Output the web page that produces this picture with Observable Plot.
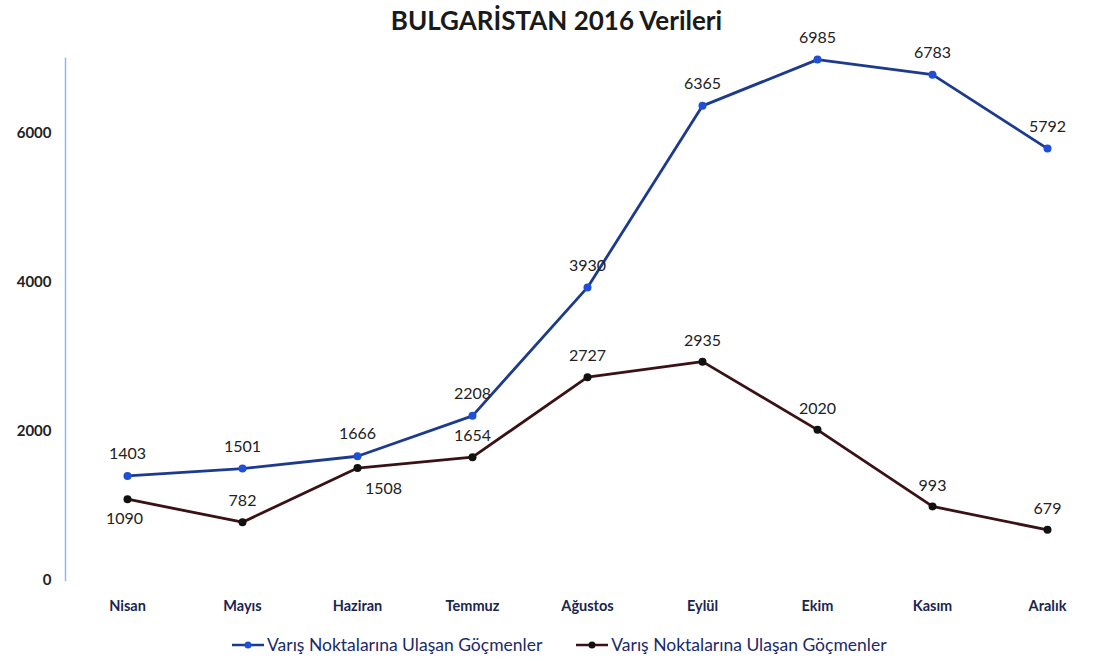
<!DOCTYPE html>
<html>
<head>
<meta charset="utf-8">
<script src="https://cdn.jsdelivr.net/npm/d3@7"></script>
<script src="https://cdn.jsdelivr.net/npm/@observablehq/plot@0.6"></script>
<style>
  html, body { margin: 0; padding: 0; background: #fff; }
  body { width: 1113px; height: 661px; overflow: hidden; font-family: Lato, "Open Sans", sans-serif; position: relative; }
  #title { position: absolute; top: 0; left: 0; width: 1113px; height: 40px; line-height: 40px; text-align: center; font-size: 26px; font-weight: bold; color: #1a1a1a; z-index: 2; }
  #chart { position: absolute; top: 0; left: 0; }
  #legend { position: absolute; top: 634px; left: 232px; display: flex; gap: 34px; font-size: 17.5px; color: #1a2a6a; align-items: center; }
  .item { display: flex; align-items: center; }
  .item svg { margin-right: 3px; }
</style>
</head>
<body>
<div id="chart"></div>
<div id="title">BULGARİSTAN 2016 Verileri</div>
<div id="legend"></div>
<script>
const months = ["Nisan", "Mayıs", "Haziran", "Temmuz", "Ağustos", "Eylül", "Ekim", "Kasım", "Aralık"];
const series1 = [1403, 1501, 1666, 2208, 3930, 6365, 6985, 6783, 5792];
const series2 = [1090, 782, 1508, 1654, 2727, 2935, 2020, 993, 679];
const seriesNames = ["Varış Noktalarına Ulaşan Göçmenler", "Varış Noktalarına Ulaşan Göçmenler"];
const yTicks = [0, 2000, 4000, 6000];

const c1Line = "#1c3a8e", c1Dot = "#1f4fd6";
const c2Line = "#3a1215", c2Dot = "#111111";

const d1 = months.map((m, i) => ({month: m, value: series1[i]}));
const d2 = months.map((m, i) => ({month: m, value: series2[i], i}));

const chart = Plot.plot({
  width: 1113,
  height: 623,
  marginLeft: 65,
  marginRight: 5,
  marginTop: 58,
  marginBottom: 43,
  style: {fontFamily: "Lato, 'Open Sans', sans-serif", fontSize: "14px", color: "#1a1a1a", background: "transparent"},
  x: {type: "point", domain: months, padding: 0.5, label: null},
  y: {domain: [0, 7000], label: null},
  marks: [
    Plot.frame({anchor: "left", stroke: "#8ab8f5", strokeWidth: 1.5}),
    Plot.axisY({ticks: yTicks, tickSize: 0, tickPadding: 14, tickFormat: d => String(d), fontWeight: "bold", fontSize: 15, fill: "#222"}),
    Plot.axisX({tickSize: 0, tickPadding: 20, fontWeight: "bold", fontSize: 14.5, fill: "#1a2550"}),
    Plot.line(d1, {x: "month", y: "value", stroke: c1Line, strokeWidth: 2.8}),
    Plot.line(d2, {x: "month", y: "value", stroke: c2Line, strokeWidth: 2.8}),
    Plot.dot(d1, {x: "month", y: "value", fill: c1Dot, r: 4}),
    Plot.dot(d2, {x: "month", y: "value", fill: c2Dot, r: 4}),
    Plot.text(d1, {x: "month", y: "value", text: d => String(d.value), dy: -22, fill: "#222", fontSize: 16}),
    Plot.text(d2.filter(d => d.i !== 0 && d.i !== 2), {x: "month", y: "value", text: d => String(d.value), dy: -21, fill: "#222", fontSize: 16}),
    Plot.text(d2.filter(d => d.i === 0), {x: "month", y: "value", text: d => String(d.value), dy: 20, dx: -3, fill: "#222", fontSize: 16}),
    Plot.text(d2.filter(d => d.i === 2), {x: "month", y: "value", text: d => String(d.value), dy: 21, dx: 26, fill: "#222", fontSize: 16})
  ]
});
document.getElementById("chart").appendChild(chart);

const legend = document.getElementById("legend");
[[c1Line, c1Dot], [c2Line, c2Dot]].forEach(([lc, dc], i) => {
  const item = document.createElement("div");
  item.className = "item";
  item.innerHTML = `<svg width="32" height="10"><line x1="0" y1="5" x2="32" y2="5" stroke="${lc}" stroke-width="2.5"/><circle cx="16" cy="5" r="3.5" fill="${dc}"/></svg><span>${seriesNames[i]}</span>`;
  legend.appendChild(item);
});
</script>
</body>
</html>
